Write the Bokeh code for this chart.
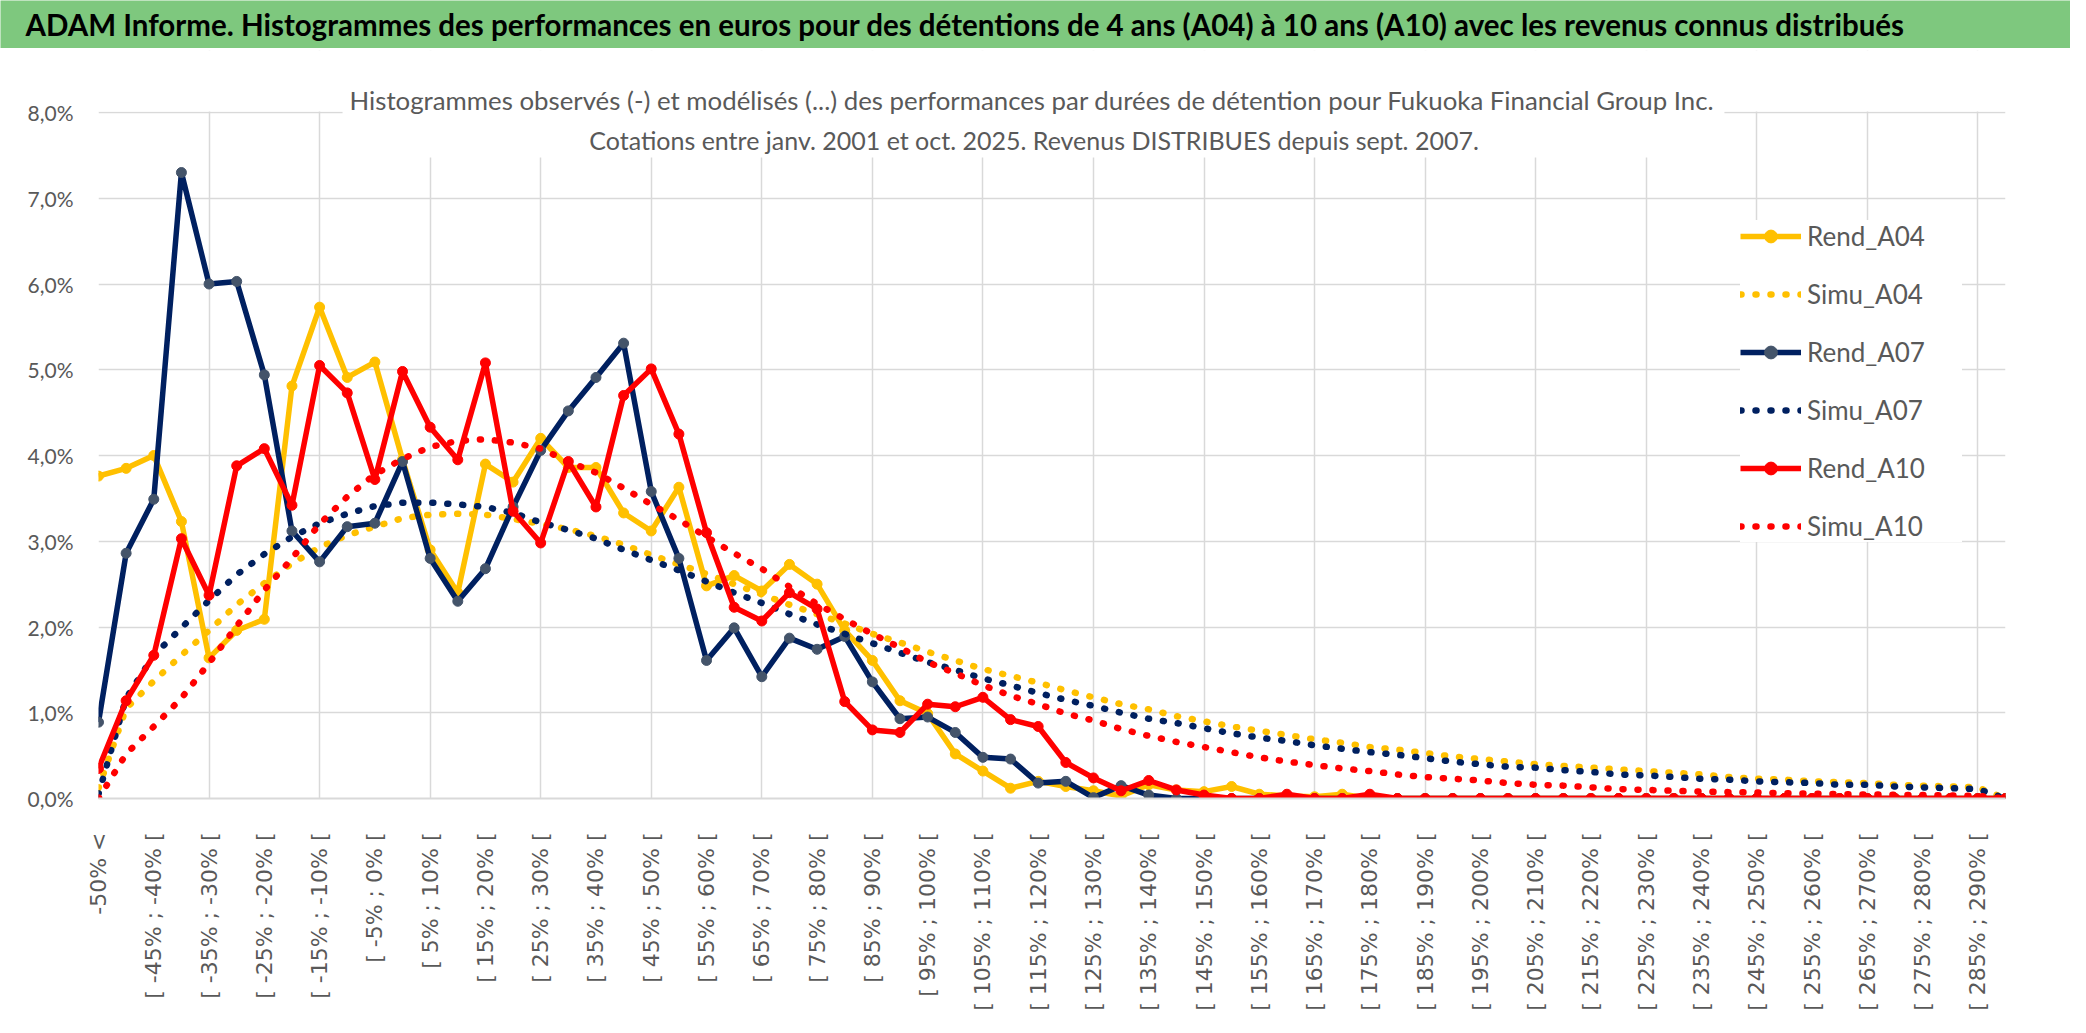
import math
from bokeh.plotting import figure
from bokeh.models import (Range1d, FixedTicker, Label, BoxAnnotation, Legend,
                          LegendItem, ColumnDataSource)
from bokeh.layouts import column
from bokeh.embed import file_html
from bokeh.resources import INLINE

# ---------------- data ----------------
categories = ["-50% <"] + [f"[ {lo}% ; {lo + 5}% [" for lo in range(-50, 295, 5)]

y_tick_labels = ["0,0%", "1,0%", "2,0%", "3,0%", "4,0%", "5,0%", "6,0%", "7,0%", "8,0%"]

rend_a04 = [3.76, 3.85, 4.00, 3.23, 1.64, 1.96, 2.09, 4.81, 5.73, 4.91,
            5.09, 3.95, 2.90, 2.40, 3.90, 3.69, 4.20, 3.86, 3.86, 3.33,
            3.12, 3.63, 2.48, 2.60, 2.42, 2.73, 2.50, 1.96, 1.61, 1.14,
            0.99, 0.52, 0.32, 0.12, 0.20, 0.14, 0.09, 0.03, 0.16, 0.10,
            0.08, 0.14, 0.05, 0.03, 0.02, 0.05, 0.00, 0.00, 0.00, 0.00,
            0.00, 0.00, 0.00, 0.00, 0.00, 0.00, 0.00, 0.00, 0.00, 0.00,
            0.00, 0.00, 0.00, 0.00, 0.00, 0.00, 0.00, 0.00, 0.00, 0.00]

simu_a04 = [0.12, 1.05, 1.37, 1.67, 1.96, 2.26, 2.51, 2.74, 2.93, 3.07,
            3.17, 3.27, 3.31, 3.32, 3.31, 3.26, 3.20, 3.14, 3.06, 2.96,
            2.84, 2.73, 2.62, 2.50, 2.38, 2.26, 2.15, 2.04, 1.92, 1.82,
            1.71, 1.61, 1.51, 1.43, 1.35, 1.26, 1.18, 1.10, 1.04, 0.96,
            0.90, 0.84, 0.79, 0.74, 0.69, 0.65, 0.60, 0.57, 0.53, 0.49,
            0.46, 0.43, 0.40, 0.38, 0.36, 0.34, 0.32, 0.30, 0.28, 0.25,
            0.23, 0.22, 0.20, 0.19, 0.18, 0.16, 0.15, 0.14, 0.13, 0.00]

rend_a07 = [0.89, 2.86, 3.49, 7.30, 6.00, 6.03, 4.94, 3.12, 2.76, 3.17,
            3.21, 3.93, 2.80, 2.30, 2.68, 3.40, 4.06, 4.52, 4.91, 5.31,
            3.58, 2.80, 1.61, 1.99, 1.42, 1.87, 1.74, 1.89, 1.36, 0.93,
            0.95, 0.77, 0.48, 0.46, 0.18, 0.20, 0.01, 0.15, 0.04, 0.00,
            0.00, 0.00, 0.00, 0.00, 0.00, 0.00, 0.00, 0.00, 0.00, 0.00,
            0.00, 0.00, 0.00, 0.00, 0.00, 0.00, 0.00, 0.00, 0.00, 0.00,
            0.00, 0.00, 0.00, 0.00, 0.00, 0.00, 0.00, 0.00, 0.00, 0.00]

simu_a07 = [0.05, 1.17, 1.67, 1.99, 2.31, 2.61, 2.85, 3.05, 3.21, 3.32,
            3.41, 3.45, 3.45, 3.43, 3.40, 3.33, 3.22, 3.13, 3.03, 2.90,
            2.78, 2.66, 2.53, 2.40, 2.28, 2.15, 2.03, 1.92, 1.81, 1.70,
            1.59, 1.50, 1.40, 1.32, 1.23, 1.15, 1.08, 1.00, 0.93, 0.88,
            0.82, 0.76, 0.71, 0.67, 0.62, 0.58, 0.54, 0.51, 0.47, 0.43,
            0.40, 0.37, 0.36, 0.33, 0.31, 0.28, 0.27, 0.25, 0.23, 0.22,
            0.20, 0.19, 0.18, 0.16, 0.16, 0.14, 0.13, 0.12, 0.11, 0.00]

rend_a10 = [0.35, 1.14, 1.67, 3.03, 2.37, 3.88, 4.08, 3.42, 5.05, 4.73,
            3.72, 4.98, 4.33, 3.95, 5.08, 3.35, 2.98, 3.93, 3.40, 4.70,
            5.01, 4.25, 3.10, 2.23, 2.07, 2.40, 2.21, 1.13, 0.80, 0.77,
            1.10, 1.07, 1.18, 0.92, 0.84, 0.42, 0.24, 0.09, 0.21, 0.10,
            0.04, 0.00, 0.00, 0.05, 0.00, 0.00, 0.05, 0.00, 0.00, 0.00,
            0.00, 0.00, 0.00, 0.00, 0.00, 0.00, 0.00, 0.00, 0.00, 0.00,
            0.00, 0.00, 0.00, 0.00, 0.00, 0.00, 0.00, 0.00, 0.00, 0.00]

simu_a10 = [0.00, 0.52, 0.84, 1.17, 1.58, 2.01, 2.43, 2.80, 3.20, 3.52,
            3.78, 3.96, 4.10, 4.17, 4.19, 4.15, 4.08, 3.93, 3.80, 3.62,
            3.43, 3.25, 3.05, 2.86, 2.68, 2.47, 2.27, 2.09, 1.92, 1.76,
            1.59, 1.46, 1.32, 1.20, 1.10, 0.99, 0.91, 0.81, 0.73, 0.66,
            0.60, 0.54, 0.48, 0.43, 0.39, 0.35, 0.32, 0.28, 0.25, 0.23,
            0.21, 0.18, 0.16, 0.15, 0.13, 0.11, 0.10, 0.09, 0.08, 0.074,
            0.07, 0.062, 0.058, 0.05, 0.047, 0.043, 0.04, 0.035, 0.03, 0.00]

TITLE = ("ADAM Informe. Histogrammes des performances en euros pour des détentions "
         "de 4 ans (A04) à 10 ans (A10) avec les revenus connus distribués")
SUB1 = ("Histogrammes observés (-) et modélisés (...) des performances par durées "
        "de détention pour Fukuoka Financial Group Inc.")
SUB2 = "Cotations entre janv. 2001 et oct. 2025. Revenus DISTRIBUES depuis sept. 2007."

# ---------------- styles ----------------
W = 2070
GREEN = "#7ec87e"
GRID = "#d9d9d9"
TXT = "#595959"
YEL = "#FFC000"
NAVY = "#002060"
NAVY_MK = "#44546A"
RED = "#FF0000"
FONT = "Lato"
FL, FR = 98, 65          # frame borders (left / right) of the main chart


def band(height, color):
    f = figure(width=W, height=height, x_range=Range1d(0, W), y_range=Range1d(height, 0),
               toolbar_location=None, output_backend="svg", min_border=0,
               x_axis_type=None, y_axis_type=None, title=None)
    f.frame_align = False
    f.outline_line_color = None
    f.background_fill_color = color
    f.border_fill_color = color
    return f


# ---------------- header ----------------
header = band(48, GREEN)
header.add_layout(Label(x=25, y=24, text=TITLE, text_font=FONT, text_font_size="29.5px",
                        text_font_style="bold", text_color="black",
                        text_baseline="middle", text_align="left", level="overlay"))
rule_top = band(2, GRID)
rule_bottom = band(2, GRID)

# ---------------- main chart ----------------
H = 965
PX = 85.75               # pixels per 1 % on the y axis
Y_TOP = 8 + 62 / PX      # frame reaches the top of the chart area
n = len(categories)
xs = list(range(n))

p = figure(width=W, height=H, x_range=Range1d(0, n - 1), y_range=Range1d(0, Y_TOP),
           toolbar_location=None, output_backend="svg", title=None,
           min_border_left=FL, min_border_right=FR, min_border_top=0, min_border_bottom=217)
p.frame_align = False
p.outline_line_color = None
p.background_fill_color = "white"
p.border_fill_color = "white"

p.xaxis.ticker = FixedTicker(ticks=list(range(0, n - 1, 2)))
p.xaxis.major_label_overrides = {i: categories[i] for i in range(0, n - 1, 2)}
p.xaxis.major_label_orientation = math.pi / 2
p.xaxis.major_label_text_font = "DejaVu Sans"
p.xaxis.major_label_text_font_size = "22px"
p.xaxis.major_label_text_color = TXT
p.xaxis.major_tick_line_color = None
p.xaxis.minor_tick_line_color = None
p.xaxis.axis_line_color = GRID
p.xaxis.axis_line_width = 2
p.xaxis.major_label_standoff = 28

p.yaxis.ticker = FixedTicker(ticks=list(range(0, 9)))
p.yaxis.major_label_overrides = {i: y_tick_labels[i] for i in range(9)}
p.yaxis.major_label_text_font = FONT
p.yaxis.major_label_text_font_size = "21px"
p.yaxis.major_label_text_color = TXT
p.yaxis.major_tick_line_color = None
p.yaxis.minor_tick_line_color = None
p.yaxis.axis_line_color = None
p.yaxis.major_label_standoff = 19

p.xgrid.ticker = FixedTicker(ticks=list(range(0, n, 4)))
p.xgrid.grid_line_color = GRID
p.xgrid.grid_line_width = 1.5
p.ygrid.ticker = FixedTicker(ticks=list(range(0, 9)))
p.ygrid.grid_line_color = GRID
p.ygrid.grid_line_width = 1.5

src = ColumnDataSource(dict(x=xs, rend_a04=rend_a04, simu_a04=simu_a04,
                            rend_a07=rend_a07, simu_a07=simu_a07,
                            rend_a10=rend_a10, simu_a10=simu_a10))

LW = 5.5
MS = 10
DOT = "1 14"
DW = 6.5

l1 = p.line("x", "rend_a04", source=src, line_color=YEL, line_width=LW, line_join="round")
m1 = p.scatter("x", "rend_a04", source=src, size=MS, fill_color=YEL, line_color=YEL)
l2 = p.line("x", "simu_a04", source=src, line_color=YEL, line_width=DW, line_dash=DOT, line_cap="round")
l3 = p.line("x", "rend_a07", source=src, line_color=NAVY, line_width=LW, line_join="round")
m3 = p.scatter("x", "rend_a07", source=src, size=MS, fill_color=NAVY_MK, line_color=NAVY_MK)
l4 = p.line("x", "simu_a07", source=src, line_color=NAVY, line_width=DW, line_dash=DOT, line_cap="round")
l5 = p.line("x", "rend_a10", source=src, line_color=RED, line_width=LW, line_join="round")
m5 = p.scatter("x", "rend_a10", source=src, size=MS, fill_color=RED, line_color=RED)
l6 = p.line("x", "simu_a10", source=src, line_color=RED, line_width=DW, line_dash=DOT, line_cap="round")

# blank area above the 8 % line, and white box behind the chart title
p.add_layout(BoxAnnotation(bottom=8.0 + 0.9 / PX, fill_color="white", fill_alpha=1.0,
                           line_color=None))
p.add_layout(BoxAnnotation(left=8.83, right=58.83, bottom=7.475, fill_color="white",
                           fill_alpha=1.0, line_color=None))
p.add_layout(Label(x=33.78, y=8.14, text=SUB1, text_font=FONT, text_font_size="25.8px",
                   text_color=TXT, text_align="center", text_baseline="alphabetic",
                   level="overlay"))
p.add_layout(Label(x=33.85, y=7.685, text=SUB2, text_font=FONT, text_font_size="25px",
                   text_color=TXT, text_align="center", text_baseline="alphabetic",
                   level="overlay"))

legend = Legend(items=[
    LegendItem(label="Rend_A04", renderers=[l1, m1]),
    LegendItem(label="Simu_A04", renderers=[l2]),
    LegendItem(label="Rend_A07", renderers=[l3, m3]),
    LegendItem(label="Simu_A07", renderers=[l4]),
    LegendItem(label="Rend_A10", renderers=[l5, m5]),
    LegendItem(label="Simu_A10", renderers=[l6]),
], location=(1642, 256))
legend.glyph_width = 61
legend.glyph_height = 32
legend.label_height = 32
legend.label_width = 155
legend.spacing = 26
legend.padding = 10
legend.margin = 0
legend.label_standoff = 6
legend.border_line_color = None
legend.background_fill_color = "white"
legend.background_fill_alpha = 1.0
legend.label_text_font = FONT
legend.label_text_font_size = "26px"
legend.label_text_color = TXT
p.add_layout(legend)

layout = column(header, rule_top, p, rule_bottom, spacing=0)
open("out.html", "w").write(file_html(layout, INLINE))
